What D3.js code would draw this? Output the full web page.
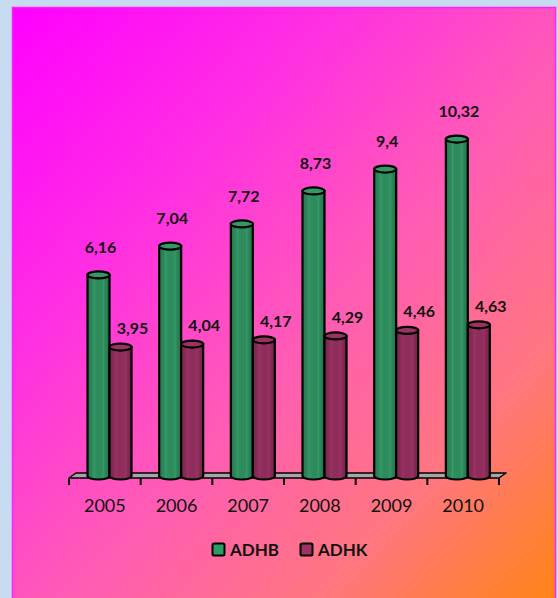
<!DOCTYPE html>
<html>
<head>
<meta charset="utf-8">
<script src="https://cdn.jsdelivr.net/npm/d3@7"></script>
<style>
  html, body { margin: 0; padding: 0; background: #c6dbf0; }
  svg { display: block; }
</style>
</head>
<body>
<svg id="chart" width="558" height="598"></svg>
<script>
// Yearly values for the two series
const years = ["2005", "2006", "2007", "2008", "2009", "2010"];
const seriesNames = ["ADHB", "ADHK"];
const adhb = [6.16, 7.04, 7.72, 8.73, 9.4, 10.32];
const adhk = [3.95, 4.04, 4.17, 4.29, 4.46, 4.63];
const valueLabels = {
  ADHB: ["6,16", "7,04", "7,72", "8,73", "9,4", "10,32"],
  ADHK: ["3,95", "4,04", "4,17", "4,29", "4,46", "4,63"]
};

const colors = { ADHB: "#2e8a5c", ADHK: "#8c2d5a" };
const legendColors = { ADHB: "#2e9a66", ADHK: "#9c3366" };

const svg = d3.select("#chart");
const defs = svg.append("defs");

// Diagonal magenta-to-orange backdrop
const bg = defs.append("linearGradient").attr("id", "bgGrad")
  .attr("x1", 0).attr("y1", 0).attr("x2", 1).attr("y2", 1);
[[0, "#ff00ff"], [0.3, "#ff30e2"], [0.55, "#ff5cb4"], [0.78, "#ff7680"], [1, "#ff8416"]]
  .forEach(([o, c]) => bg.append("stop").attr("offset", o).attr("stop-color", c));

svg.append("rect")
  .attr("x", 12.5).attr("y", 7.5).attr("width", 543).attr("height", 592)
  .attr("fill", "url(#bgGrad)")
  .attr("stroke", "#ff22ff").attr("stroke-width", 1.5);

// Cylinder shading gradients
seriesNames.forEach(s => {
  const base = d3.color(colors[s]);
  const g = defs.append("linearGradient").attr("id", "cyl" + s)
    .attr("x1", 0).attr("y1", 0).attr("x2", 1).attr("y2", 0);
  [[0, base.darker(0.5)], [0.3, base.brighter(0.15)], [0.5, base], [0.75, base.brighter(0.1)], [1, base.darker(0.7)]]
    .forEach(([o, c]) => g.append("stop").attr("offset", o).attr("stop-color", c));
});

const x0 = d3.scaleBand().domain(years).range([69, 499]).padding(0);
const x1 = d3.scaleBand().domain(seriesNames).range([18.5, 62.5]).padding(0);
const y = d3.scaleLinear().domain([0, 11]).range([476, 476 - 32.65 * 11]);

// Floor plane
const floorFront = 478, depthX = 7, depthY = 5;
svg.append("path")
  .attr("d", `M${x0.range()[0]},${floorFront} L${x0.range()[1]},${floorFront} L${x0.range()[1] + depthX},${floorFront - depthY} L${x0.range()[0] + depthX},${floorFront - depthY} Z`)
  .attr("fill", "#a6a6a6").attr("stroke", "#000").attr("stroke-width", 1.5).attr("stroke-linejoin", "round");

// Category axis
const xAxis = d3.axisBottom(x0).tickSizeOuter(0).tickSize(0);
const axisG = svg.append("g").attr("transform", `translate(0,${floorFront})`).call(xAxis);
axisG.select(".domain").remove();
axisG.selectAll("text")
  .attr("dy", "0").attr("y", 34)
  .attr("font-family", "Lato, 'Open Sans', sans-serif").attr("font-size", 18).attr("fill", "#111");
// Boundary ticks between categories
const boundaries = years.map(d => x0(d)).concat([x0.range()[1]]);
svg.selectAll(".bound").data(boundaries).join("line")
  .attr("x1", d => d).attr("x2", d => d)
  .attr("y1", floorFront).attr("y2", floorFront + 7)
  .attr("stroke", "#000").attr("stroke-width", 2);

// Bars as cylinders
const rows = years.map((yr, i) => ({ year: yr, values: [
  { key: "ADHB", v: adhb[i], label: valueLabels.ADHB[i] },
  { key: "ADHK", v: adhk[i], label: valueLabels.ADHK[i] }
]}));

const ry = 3.5;
const groups = svg.selectAll(".grp").data(rows).join("g")
  .attr("transform", d => `translate(${x0(d.year)},0)`);

const cyl = groups.selectAll(".cyl").data(d => d.values).join("g");
cyl.each(function(d) {
  const g = d3.select(this);
  const left = x1(d.key), w = x1.bandwidth(), rx = w / 2, cx = left + rx;
  const top = y(d.v), bottom = y(0);
  g.append("path")
    .attr("d", `M${left},${top} L${left},${bottom} A${rx},${ry} 0 0 0 ${left + w},${bottom} L${left + w},${top} Z`)
    .attr("fill", `url(#cyl${d.key})`).attr("stroke", "#000").attr("stroke-width", 2.2);
  // faint vertical highlights
  [0.3, 0.72].forEach(f => g.append("line")
    .attr("x1", left + w * f).attr("x2", left + w * f)
    .attr("y1", top + ry).attr("y2", bottom + 2)
    .attr("stroke", d3.color(colors[d.key]).brighter(0.6)).attr("stroke-opacity", 0.5).attr("stroke-width", 1));
  g.append("ellipse")
    .attr("cx", cx).attr("cy", top).attr("rx", rx).attr("ry", ry)
    .attr("fill", d3.color(colors[d.key]).brighter(0.3)).attr("stroke", "#000").attr("stroke-width", 2.2);
});

// Value labels
cyl.append("text")
  .attr("x", d => x1(d.key) + x1.bandwidth() / 2 + (d.key === "ADHB" ? 2 : 12))
  .attr("y", d => y(d.v) - (d.key === "ADHB" ? 22 : 13))
  .attr("text-anchor", "middle")
  .attr("font-family", "Lato, 'Open Sans', sans-serif").attr("font-weight", "bold")
  .attr("font-size", 16).attr("fill", "#111")
  .text(d => d.label);

// Legend
const legendItems = [{ key: "ADHB", x: 212 }, { key: "ADHK", x: 300 }];
const lg = svg.selectAll(".leg").data(legendItems).join("g")
  .attr("transform", d => `translate(${d.x},543)`);
lg.append("rect").attr("x", 0.5).attr("y", 0.5).attr("width", 12).attr("height", 12).attr("rx", 1.5)
  .attr("fill", d => legendColors[d.key]).attr("stroke", "#000").attr("stroke-width", 2);
lg.append("text").attr("x", 18).attr("y", 13)
  .attr("font-family", "Lato, 'Open Sans', sans-serif").attr("font-weight", "bold")
  .attr("font-size", 17).attr("fill", "#111")
  .text(d => d.key);
</script>
</body>
</html>
